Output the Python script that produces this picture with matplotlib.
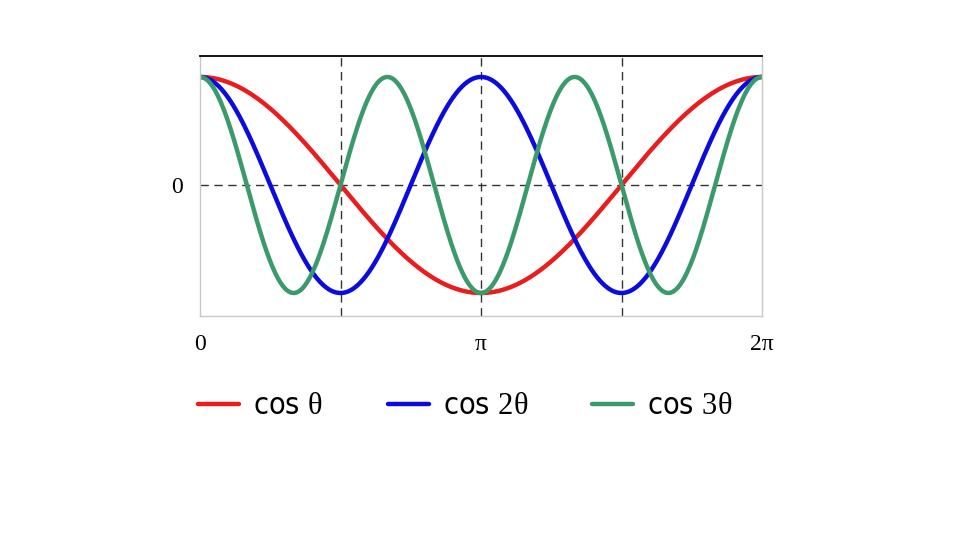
import numpy as np
import matplotlib
matplotlib.use("Agg")
from matplotlib import pyplot as plt

# Harmonics drawn: cos(k * theta)
harmonics = [1, 2, 3]
labels = [r"cos $\mathrm{\theta}$", r"cos $\mathrm{2\theta}$", r"cos $\mathrm{3\theta}$"]
colors = ["#ea1c1c", "#0b0be0", "#3a9a6c"]
x_ticks = [0, np.pi, 2 * np.pi]
x_tick_labels = ["0", "π", "2π"]
grid_x = [np.pi / 2, np.pi, 3 * np.pi / 2]
legend_x = [198, 388, 592]  # left edge of each legend entry, px

plt.rcParams["mathtext.fontset"] = "custom"
plt.rcParams["mathtext.rm"] = "Liberation Serif"

theta = np.linspace(0, 2 * np.pi, 600)

fig = plt.figure(figsize=(9.6, 5.4), dpi=100)
ax = fig.add_axes([200 / 960, 1 - 316 / 540, 562 / 960, 260 / 540])

lines = []
for k, lab, c in zip(harmonics, labels, colors):
    (ln,) = ax.plot(theta, np.cos(k * theta), color=c, linewidth=3.2, label=lab,
                    solid_capstyle="round")
    lines.append(ln)

for gx in grid_x:
    ax.axvline(gx, color="#333333", linestyle=(0, (6, 4)), linewidth=1, zorder=0)
ax.axhline(0, color="#333333", linestyle=(0, (6, 4)), linewidth=1, zorder=0)

ax.set_xlim(0, 2 * np.pi)
ax.set_ylim(-1.213, 1.194)

for side in ["left", "right", "bottom"]:
    ax.spines[side].set_color("#c8c8c8")
    ax.spines[side].set_linewidth(1)
ax.spines["top"].set_color("black")
ax.spines["top"].set_linewidth(1.3)

ax.set_xticks(x_ticks)
ax.set_xticklabels(x_tick_labels, family="Liberation Serif", fontsize=17)
ax.set_yticks([0])
ax.set_yticklabels(["0"], family="Liberation Serif", fontsize=17)
ax.tick_params(length=0, pad=12, axis="y")
ax.tick_params(length=0, pad=13, axis="x")

# one legend per entry so each starts where the reference has it
for ln, lab, lx in zip(lines, labels, legend_x):
    fig.legend(
        handles=[ln],
        labels=[lab],
        loc="center left",
        bbox_to_anchor=(lx / 960, 1 - 406 / 540),
        frameon=False,
        prop={"family": "DejaVu Sans", "stretch": "condensed", "size": 22},
        handlelength=1.34,
        handletextpad=0.46,
        borderpad=0,
        borderaxespad=0,
    )

fig.savefig("out.png", dpi=100)
